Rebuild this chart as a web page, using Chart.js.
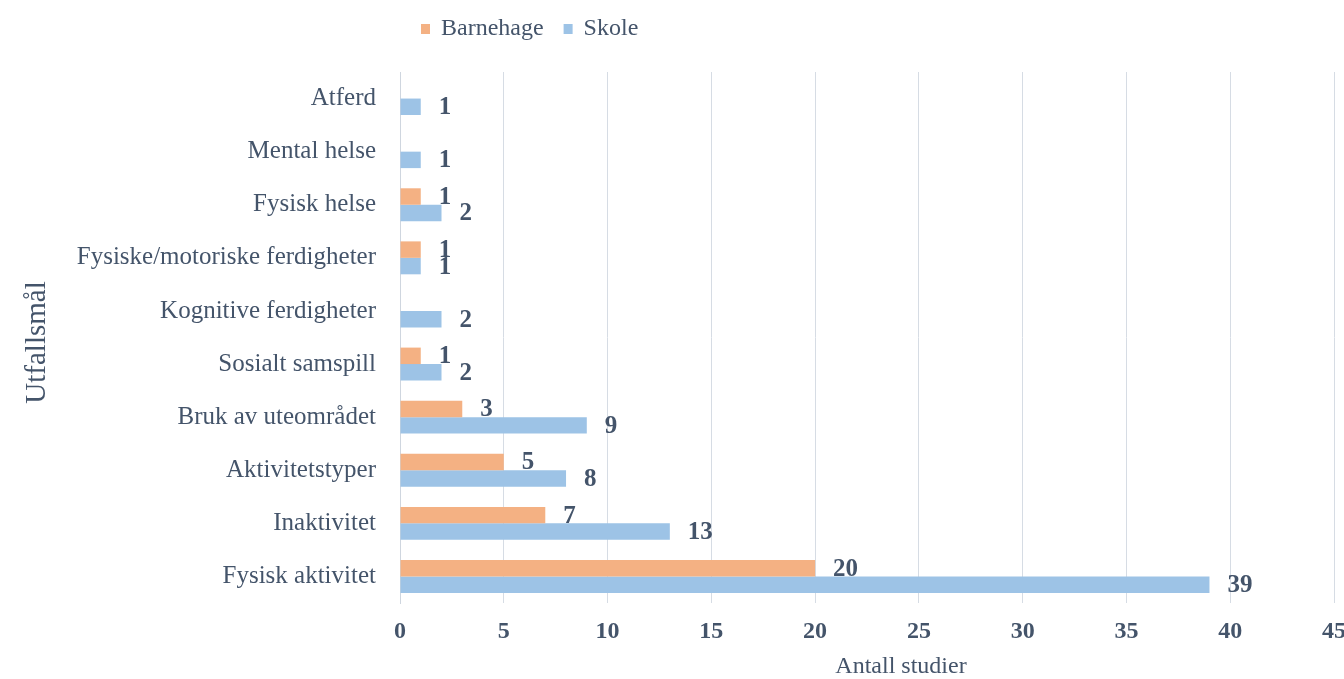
<!DOCTYPE html>
<html>
<head>
<meta charset="utf-8">
<script src="https://cdn.jsdelivr.net/npm/chart.js@4.4.1/dist/chart.umd.min.js"></script>
<style>
  html, body { margin: 0; padding: 0; background: #ffffff; }
  #wrap { position: relative; width: 1344px; height: 679px; }
</style>
</head>
<body>
<div id="wrap"><canvas id="chart"></canvas></div>
<script>
// Outcome categories (top to bottom) and number of studies per setting
const categories = [
  'Atferd',
  'Mental helse',
  'Fysisk helse',
  'Fysiske/motoriske ferdigheter',
  'Kognitive ferdigheter',
  'Sosialt samspill',
  'Bruk av uteområdet',
  'Aktivitetstyper',
  'Inaktivitet',
  'Fysisk aktivitet'
];
const barnehage = [null, null, 1, 1, null, 1, 3, 5, 7, 20];
const skole = [1, 1, 2, 1, 2, 2, 9, 8, 13, 39];
const seriesNames = ['Barnehage', 'Skole'];
const xMin = 0, xMax = 45, xStep = 5;
const xTitle = 'Antall studier';
const yTitle = 'Utfallsmål';

const TEXT = '#44546a';
const SERIF = '"Liberation Serif", "Times New Roman", serif';
const ORANGE = '#f4b183';
const BLUE = '#9dc3e6';

// Legend, axis titles and value labels drawn onto the canvas
const decorations = {
  id: 'decorations',
  afterDraw(chart) {
    const ctx = chart.ctx;
    const area = chart.chartArea;
    ctx.save();
    ctx.fillStyle = TEXT;

    // value labels right of each bar
    ctx.font = 'bold 25px ' + SERIF;
    ctx.textAlign = 'left';
    ctx.textBaseline = 'middle';
    chart.data.datasets.forEach((ds, di) => {
      const meta = chart.getDatasetMeta(di);
      meta.data.forEach((bar, i) => {
        const v = ds.data[i];
        if (v == null || v === 0) return;
        ctx.fillText(String(v), bar.x + 18, bar.y + 1);
      });
    });

    // axis titles
    ctx.font = '24px ' + SERIF;
    ctx.textAlign = 'center';
    ctx.fillText(xTitle, (area.left + area.right) / 2 + 34, 667);
    ctx.save();
    ctx.font = '29px ' + SERIF;
    ctx.translate(37, (area.top + area.bottom) / 2 + 5);
    ctx.rotate(-Math.PI / 2);
    ctx.fillText(yTitle, 0, 0);
    ctx.restore();

    // legend
    let x = 421;
    const y = 29;
    ctx.font = '24px ' + SERIF;
    ctx.textAlign = 'left';
    chart.data.datasets.forEach((ds) => {
      ctx.fillStyle = ds.backgroundColor;
      ctx.fillRect(x, y - 5, 9, 10);
      x += 20;
      ctx.fillStyle = TEXT;
      ctx.fillText(ds.label, x, y);
      x += ctx.measureText(ds.label).width + 20;
    });
    ctx.restore();
  }
};

new Chart(document.getElementById('chart'), {
  type: 'bar',
  data: {
    labels: categories,
    datasets: [
      { label: seriesNames[0], data: barnehage, backgroundColor: ORANGE, borderWidth: 0 },
      { label: seriesNames[1], data: skole, backgroundColor: BLUE, borderWidth: 0 }
    ]
  },
  options: {
    indexAxis: 'y',
    responsive: true,
    maintainAspectRatio: false,
    animation: false,
    categoryPercentage: 0.62,
    barPercentage: 1.0,
    layout: { padding: { top: 72, right: 10, bottom: 0, left: 0 } },
    plugins: {
      legend: { display: false },
      tooltip: { enabled: false }
    },
    scales: {
      x: {
        min: xMin,
        max: xMax,
        ticks: {
          stepSize: xStep,
          color: TEXT,
          padding: 14,
          font: { family: SERIF, size: 24, weight: 'bold' }
        },
        grid: { color: '#d6dce4', lineWidth: 1, drawTicks: false },
        border: { display: false },
        afterFit(scale) {
          scale.height = 76;
          scale.paddingLeft = 0;
          scale.paddingRight = 0;
        }
      },
      y: {
        ticks: {
          color: TEXT,
          padding: 24,
          font: { family: SERIF, size: 25 }
        },
        grid: { display: false, drawTicks: false },
        border: { display: true, color: '#cfd6df', width: 1 },
        afterFit(scale) {
          scale.width = 400;
          scale.paddingTop = 0;
          scale.paddingBottom = 0;
        }
      }
    }
  },
  plugins: [decorations]
});
</script>
</body>
</html>
